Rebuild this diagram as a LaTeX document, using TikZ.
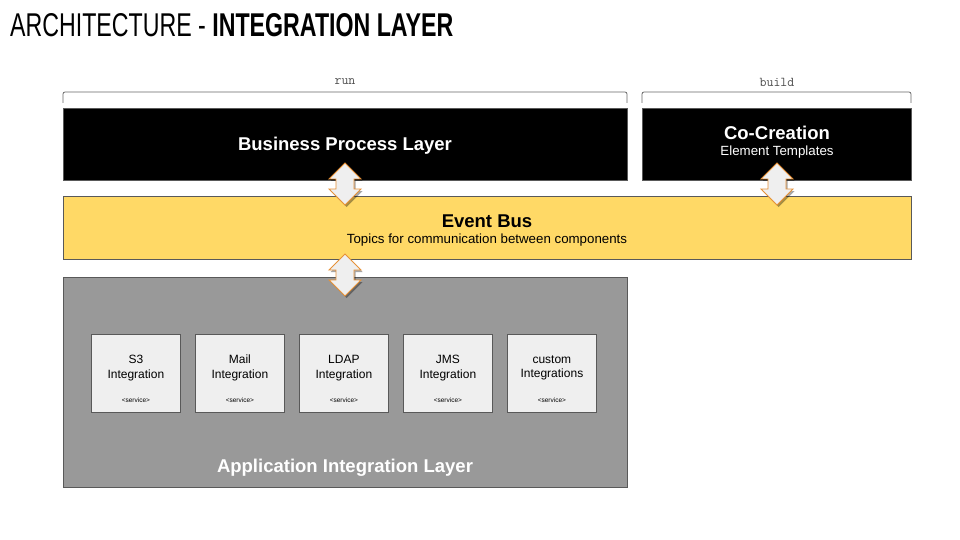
\documentclass[tikz,border=0pt]{standalone}
\usepackage{fontspec}
\setmainfont{Liberation Sans}
\usetikzlibrary{shadows}
\definecolor{busyellow}{HTML}{FFD966}
\definecolor{appgray}{HTML}{999999}
\definecolor{svcgray}{HTML}{EFEFEF}
\definecolor{edgegray}{HTML}{595959}
\definecolor{arroworange}{HTML}{E69138}
\definecolor{bracketgray}{HTML}{666666}
\tikzset{
  layerbox/.style={draw=edgegray, line width=0.8pt, inner sep=0pt},
  blackbox/.style={layerbox, fill=black},
  svcbox/.style={draw=edgegray, line width=0.8pt, fill=svcgray, inner sep=0pt, minimum width=89pt, minimum height=78pt, anchor=north west},
  svctext/.style={font=\fontsize{12}{14.5}\selectfont, align=center, text=black},
  svctag/.style={font=\fontsize{6.5}{7}\selectfont, text=black},
  bracket/.style={draw=bracketgray, line width=0.8pt, rounded corners=2pt},
  phase/.style={font=\ttfamily\fontsize{13.5}{13.5}\selectfont, text=black!70},
  bigtext/.style={font=\bfseries\fontsize{18.5}{21}\selectfont},
  subtext/.style={font=\fontsize{13.3}{15}\selectfont},
  dblarrow/.style={draw=arroworange, line width=0.9pt, fill=svcgray, line join=miter,
    drop shadow={shadow xshift=1.5pt, shadow yshift=-2pt, opacity=0.35, fill=black}}
}
\newcommand{\layerarrow}[3]{% center x, top y, bottom y
  \path[dblarrow] (#1,#2) -- ++(16,16) -- ++(-7,0) -- (#1+9,#3-16) -- ++(7,0) -- (#1,#3)
    -- ++(-16,-16) -- ++(7,0) -- (#1-9,#2+16) -- ++(-7,0) -- cycle;}
\begin{document}
\begin{tikzpicture}[x=1pt,y=-1pt]
\useasboundingbox (0,0) rectangle (960,540);
% title
\node[anchor=base west, inner sep=0pt] (title) at (10,37)
  {\resizebox{443pt}{23pt}{ARCHITECTURE - \textbf{INTEGRATION LAYER}}};
% phase labels and brackets
\node[phase] (run) at (345,82) {run};
\node[phase] (build) at (777,82) {build};
\coordinate (r1) at (63,103); \coordinate (r2) at (627,103);
\coordinate (b1) at (642,103); \coordinate (b2) at (911,103);
\draw[bracket] (r1) |- (345,92) -| (r2);
\draw[bracket] (b1) |- (777,92) -| (b2);
% layers
\node[blackbox, minimum width=564pt, minimum height=72pt, anchor=north west] (bpl) at (63,108) {};
\node[bigtext, text=white] (bpltitle) at (345,146) {Business Process Layer};
\node[blackbox, minimum width=269pt, minimum height=72pt, anchor=north west] (cc) at (642,108) {};
\node[bigtext, text=white] (cctitle) at (777,133) {Co-Creation};
\node[subtext, text=white] (ccsub) at (777,152) {Element Templates};
\node[layerbox, fill=busyellow, minimum width=848pt, minimum height=63pt, anchor=north west] (bus) at (63,196) {};
\node[bigtext] (bustitle) at (487,221) {Event Bus};
\node[subtext] (bussub) at (487,240) {Topics for communication between components};
\node[layerbox, fill=appgray, minimum width=564pt, minimum height=210pt, anchor=north west] (app) at (63,277) {};
\node[bigtext, text=white] (apptitle) at (345,468) {Application Integration Layer};
% services
\foreach \name/\x/\lbl in {s3/91/{S3\\Integration}, mail/195/{Mail\\Integration}, ldap/299/{LDAP\\Integration}, jms/403/{JMS\\Integration}, custom/507/{custom\\Integrations}}{
  \node[svcbox] (\name) at (\x,334) {};
  \node[svctext] (\name-t) at ([yshift=-34pt]\name.north) {\lbl};
  \node[svctag] (\name-s) at ([yshift=13pt]\name.south) {<service>};
}
% arrows
\layerarrow{345}{163}{205}
\layerarrow{777}{163}{205}
\layerarrow{345}{254}{296}
\end{tikzpicture}
\end{document}
